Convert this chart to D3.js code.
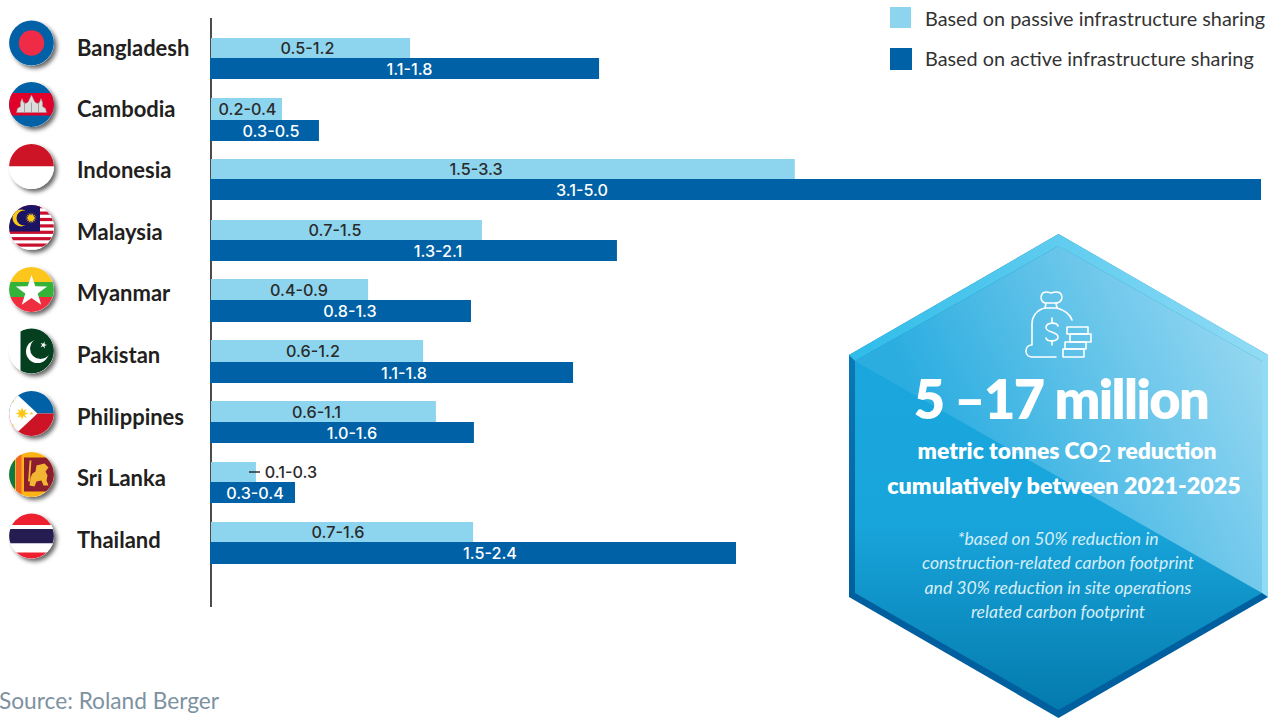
<!DOCTYPE html>
<html>
<head>
<meta charset="utf-8">
<script src="https://cdnjs.cloudflare.com/ajax/libs/d3/7.8.5/d3.min.js"></script>
<style>
html,body{margin:0;padding:0;background:#fff;overflow:hidden}
svg{display:block}
text{font-family:Lato,"Noto Sans",sans-serif}
text.range{font-family:Inter,"Noto Sans",sans-serif}
</style>
</head>
<body>
<div id="chart"></div>
<script>
// Estimated CO2 reduction by country, million metric tonnes
const countries = ["Bangladesh","Cambodia","Indonesia","Malaysia","Myanmar","Pakistan","Philippines","Sri Lanka","Thailand"];
const passiveValues = [0.948,0.338,2.78,1.29,0.748,1.01,1.071,0.214,1.248];
const activeValues = [1.848,0.514,5.0,1.933,1.238,1.724,1.252,0.40,2.50];
const passiveLabels = ["0.5-1.2","0.2-0.4","1.5-3.3","0.7-1.5","0.4-0.9","0.6-1.2","0.6-1.1","0.1-0.3","0.7-1.6"];
const activeLabels = ["1.1-1.8","0.3-0.5","3.1-5.0","1.3-2.1","0.8-1.3","1.1-1.8","1.0-1.6","0.3-0.4","1.5-2.4"];
const legendLabels = ["Based on passive infrastructure sharing","Based on active infrastructure sharing"];
const sourceText = "Source: Roland Berger";

// Layout of the rows: bar edges, range label centres, flag and name centres
const rowTops = [38,98,159,220,279,340,401,462,522];
const rowMids = [58,120,179,240,300,362,422,482,542];
const rowEnds = [79,141,200,261,322,383,443,503,564];
const passiveLabelX = [307.5,247.5,476,335,299,313,316.5,291,338];
const activeLabelX = [409.5,271,582,438,350,404,352,255,490];
const flagY = [43,104.5,166.5,227.5,289.5,351,413.5,474.5,536];
const nameY = [56,117,178,240,301,363,425,486,548];

const W = 1276, H = 718;
const LIGHT = "#8dd5ee", DARK = "#0061a6";
const svg = d3.select("#chart").append("svg").attr("width",W).attr("height",H).attr("viewBox",[0,0,W,H]);
const defs = svg.append("defs");

const x = d3.scaleLinear().domain([0,5]).range([211,1261]);

// Soft drop shadow behind the round flags
const sh = defs.append("filter").attr("id","flagShadow").attr("x","-30%").attr("y","-30%").attr("width","170%").attr("height","170%");
sh.append("feDropShadow").attr("dx",3).attr("dy",3).attr("stdDeviation",2.2).attr("flood-color","#000").attr("flood-opacity",0.6);

// Hexagon gradients
const g1 = defs.append("linearGradient").attr("id","hexBody").attr("x1",0).attr("y1",0).attr("x2",0).attr("y2",1);
g1.append("stop").attr("offset","0").attr("stop-color","#1ca8de");
g1.append("stop").attr("offset","0.6").attr("stop-color","#18a5db");
g1.append("stop").attr("offset","1").attr("stop-color","#047aad");
const g2 = defs.append("linearGradient").attr("id","hexSheen").attr("gradientUnits","userSpaceOnUse")
  .attr("x1",950).attr("y1",470).attr("x2",1262).attr("y2",320);
g2.append("stop").attr("offset","0").attr("stop-color","#2bade0");
g2.append("stop").attr("offset","1").attr("stop-color","#9ad9f2");
const g3 = defs.append("linearGradient").attr("id","hexEdgeTop").attr("gradientUnits","userSpaceOnUse")
  .attr("x1",850).attr("y1",300).attr("x2",1268).attr("y2",300);
g3.append("stop").attr("offset","0").attr("stop-color","#2ebce9");
g3.append("stop").attr("offset","1").attr("stop-color","#92dcf5");
const g4 = defs.append("linearGradient").attr("id","hexBase").attr("x1",0).attr("y1",0).attr("x2",0).attr("y2",1);
g4.append("stop").attr("offset","0.25").attr("stop-color","#0c78b8");
g4.append("stop").attr("offset","0.75").attr("stop-color","#005f9e");

// Axis line
svg.append("line").attr("x1",211).attr("x2",211).attr("y1",18).attr("y2",607).attr("stroke","#111").attr("stroke-width",1.5);

// Bars
const rows = countries.map((c,i)=>({c,i,p:passiveValues[i],a:activeValues[i],pl:passiveLabels[i],al:activeLabels[i]}));
const row = svg.selectAll("g.row").data(rows).join("g").attr("class","row");
row.append("rect").attr("x",x(0)).attr("y",d=>rowTops[d.i]).attr("width",d=>x(d.p)-x(0)).attr("height",d=>rowMids[d.i]-rowTops[d.i]).attr("fill",LIGHT);
row.append("rect").attr("x",x(0)-1).attr("y",d=>rowMids[d.i]).attr("width",d=>x(d.a)-x(0)+1).attr("height",d=>rowEnds[d.i]-rowMids[d.i]).attr("fill",DARK);
row.append("text").attr("class","range").attr("x",d=>passiveLabelX[d.i]).attr("y",d=>(rowTops[d.i]+rowMids[d.i])/2+6).attr("text-anchor","middle")
  .attr("font-size",16.2).attr("font-weight",500).attr("fill","#2a2a2a").text(d=>d.pl);
row.append("text").attr("class","range").attr("x",d=>activeLabelX[d.i]).attr("y",d=>(rowMids[d.i]+rowEnds[d.i])/2+6).attr("text-anchor","middle")
  .attr("font-size",16.2).attr("font-weight",500).attr("fill","#fff").text(d=>d.al);
row.append("text").attr("x",77).attr("y",d=>nameY[d.i]).attr("font-size",22).attr("font-weight",700)
  .attr("fill","#231f20").text(d=>d.c);

// Leader dash for the short Sri Lanka bar
svg.append("line").attr("x1",249).attr("x2",260).attr("y1",472).attr("y2",472).attr("stroke","#222").attr("stroke-width",1.4);

// Round flags
const flagR = 22.4, flagX = 31.5;
function star(cx,cy,R,r,n,rot){
  const pts=[];
  for(let k=0;k<n*2;k++){
    const a=rot+k*Math.PI/n, q=k%2?r:R;
    pts.push([cx+q*Math.sin(a),cy-q*Math.cos(a)]);
  }
  return pts.join(" ");
}
function band(g,y0,y1,c){g.append("rect").attr("x",-24).attr("y",y0).attr("width",48).attr("height",y1-y0).attr("fill",c);}
const painters = {
  Bangladesh(g){
    band(g,-24,24,"#0061a6");
    g.append("circle").attr("r",12.7).attr("fill","#ef2b46");
  },
  Cambodia(g){
    band(g,-24,24,"#0061a6");
    band(g,-11.5,11,"#e0002a");
    g.append("polygon").attr("points","-15,8 -14,4 -11,2 -11,-2 -9.5,-6 -8,-2 -6,-1 -4,-2 -3,-3 0,-9.5 3,-3 4,-2 6,-1 8,-2 9.5,-6 11,-2 11,2 14,4 15,8").attr("fill","#dcdcdc").attr("stroke","#9a9a9a").attr("stroke-width",.5);
    [-7,0,7].forEach(p=>g.append("line").attr("x1",p).attr("x2",p).attr("y1",-2).attr("y2",8).attr("stroke","#8f8f8f").attr("stroke-width",.8));
  },
  Indonesia(g){
    band(g,-24,0,"#cc1426");
    band(g,0,24,"#fff");
  },
  Malaysia(g){
    band(g,-24,24,"#fff");
    d3.range(0,8).forEach(k=>band(g,-22.4+k*6.4,-19.2+k*6.4,"#c8102e"));
    g.append("rect").attr("x",-24).attr("y",-24).attr("width",32.5).attr("height",28).attr("fill","#1b1464");
    g.append("circle").attr("cx",-10.5).attr("cy",-9.5).attr("r",8.5).attr("fill","#fcc917");
    g.append("circle").attr("cx",-7.5).attr("cy",-9.5).attr("r",7.5).attr("fill","#1b1464");
    g.append("polygon").attr("points",star(-0.5,-9.5,5.8,2.8,14,0)).attr("fill","#fcc917");
  },
  Myanmar(g){
    band(g,-24,-7.5,"#fdc61d");
    band(g,-7.5,7.5,"#34b23a");
    band(g,7.5,24,"#ee2e3f");
    g.append("polygon").attr("points",star(0,2,16.5,6.5,5,0)).attr("fill","#fff");
  },
  Pakistan(g){
    band(g,-24,24,"#fff");
    g.append("rect").attr("x",-11).attr("y",-24).attr("width",36).attr("height",48).attr("fill","#04401f");
    g.append("circle").attr("cx",6).attr("cy",0.5).attr("r",11.5).attr("fill","#fff");
    g.append("circle").attr("cx",9).attr("cy",-2.5).attr("r",10.5).attr("fill","#04401f");
    g.append("polygon").attr("points",star(12,-6,3.6,1.4,5,0.3)).attr("fill","#fff");
  },
  Philippines(g){
    band(g,-24,0,"#0061a6");
    band(g,0,24,"#cc1426");
    g.append("polygon").attr("points","-24,-28 -24,28 6,0").attr("fill","#fff");
    g.append("polygon").attr("points",star(-9.5,0,6.5,3,8,0)).attr("fill","#fcc917");
    [[-19,-12],[-19,12],[0,0]].forEach(p=>g.append("polygon").attr("points",star(p[0],p[1],1.8,.8,5,0)).attr("fill","#fcc917"));
  },
  "Sri Lanka"(g){
    band(g,-24,24,"#fcb316");
    g.append("rect").attr("x",-24).attr("y",-24).attr("width",7.5).attr("height",48).attr("fill","#0b7a4b");
    g.append("rect").attr("x",-15.5).attr("y",-24).attr("width",5.5).attr("height",48).attr("fill","#f26722");
    g.append("rect").attr("x",-7.5).attr("y",-17).attr("width",32).attr("height",34).attr("fill","#8c1d2f");
    g.append("path").attr("d","M-2,11 L-1,3 L1,-1 L4,-3 L5,-9 L13,-11 L17,-7 L14,-3 L16,1 L15,6 L17,11 L12,11 L10,6 L5,7 L3,12 Z").attr("fill","#f2b632");
    g.append("line").attr("x1",-1).attr("y1",-14).attr("x2",-2.5).attr("y2",7).attr("stroke","#f2b632").attr("stroke-width",1.8);
  },
  Thailand(g){
    band(g,-24,-11,"#ee2030");
    band(g,-11,-7,"#fff");
    band(g,-7,7.5,"#251c52");
    band(g,7.5,16.5,"#fff");
    band(g,16.5,24,"#ee2030");
  }
};
countries.forEach((c,i)=>{
  const holder = svg.append("g").attr("transform",`translate(${flagX},${flagY[i]})`);
  holder.append("circle").attr("r",flagR).attr("fill","#fff").attr("filter","url(#flagShadow)");
  defs.append("clipPath").attr("id","flagClip"+i).append("circle").attr("r",flagR);
  painters[c](holder.append("g").attr("clip-path",`url(#flagClip${i})`));
});

// Legend
const legendY = [7,48];
legendLabels.forEach((t,i)=>{
  svg.append("rect").attr("x",890).attr("y",legendY[i]).attr("width",i?22:21).attr("height",i?22:21).attr("fill",i?DARK:LIGHT);
  svg.append("text").attr("x",925).attr("y",legendY[i]+19-(i?1:0)).attr("font-size",19.85).attr("fill","#333").text(t);
});

// Source line
svg.append("text").attr("x",-1).attr("y",709).attr("font-size",22.7).attr("fill","#7d92a1").text(sourceText);

// Callout hexagon with bevelled edge
const hex = svg.append("g");
const cx = 1058.5;
hex.append("polygon").attr("points",`${cx},234 1268,355 1268,597 ${cx},718 849,597 849,355`).attr("fill","url(#hexBase)");
hex.append("polygon").attr("points",`${cx},234 1268,355 ${cx},246 855,361 849,355`).attr("fill","url(#hexEdgeTop)");
hex.append("polygon").attr("points",`${cx},246 1262,361 1262,593 ${cx},710 855,593 855,361`).attr("fill","url(#hexBody)");
hex.append("polygon").attr("points",`${cx},234 1268,355 1268,597 1262,593 1262,361 ${cx},246`).attr("fill","url(#hexEdgeTop)");
hex.append("polygon").attr("points",`${cx},246 1262,361 1262,593 855,361`).attr("fill","url(#hexSheen)");

// Money bag icon
const icon = hex.append("g").attr("transform","translate(1026,291)").attr("fill","none").attr("stroke","#fff").attr("stroke-width",1.6).attr("stroke-linejoin","round").attr("stroke-linecap","round");
icon.append("path").attr("d","M19,12 C15,11 14,6 16,3 C18,0 22,1 25,2 C28,1 33,0 35,3 C37,6 36,11 31,12 Z");
icon.append("path").attr("d","M20,12 L19,17 M30,12 L31,17 M19,17 L31,17");
icon.append("path").attr("d","M19,17 C10,19 6,26 6,33 L6,54 C2,54 0,57 0,60 C0,64 3,66 6,66 L30,66");
icon.append("path").attr("d","M31,17 C38,19 44,23 46,29");
icon.append("path").attr("d","M32,35 C31,31 21,31 20,36 C19,42 32,40 32,46 C32,51 21,51 20,47 M26,27 L26,31 M26,50 L26,54");
icon.append("rect").attr("x",41).attr("y",36).attr("width",21).attr("height",7);
icon.append("rect").attr("x",44).attr("y",43).attr("width",21).attr("height",8);
icon.append("rect").attr("x",39).attr("y",51).attr("width",21).attr("height",7);
icon.append("rect").attr("x",37).attr("y",58).attr("width",21).attr("height",8);

// Callout text
const center = hex.append("g").attr("text-anchor","middle").attr("fill","#fff");
center.append("text").attr("x",1061).attr("y",419).attr("font-size",54).attr("font-weight",800).attr("letter-spacing",-1.6).text("5 –17 million");
const co2 = center.append("text").attr("x",1067).attr("y",459).attr("font-size",22.8).attr("font-weight",800);
co2.append("tspan").text("metric tonnes CO");
co2.append("tspan").attr("dy",3).attr("font-size",24).attr("font-weight",400).text("2");
co2.append("tspan").attr("dy",-3).text(" reduction");
center.append("text").attr("x",1064).attr("y",494).attr("font-size",23.3).attr("font-weight",800).text("cumulatively between 2021-2025");
const note = ["*based on 50% reduction in","construction-related carbon footprint","and 30% reduction in site operations","related carbon footprint"];
const noteY = [545,569,594,618];
note.forEach((t,i)=>center.append("text").attr("x",1058).attr("y",noteY[i]).attr("font-size",17.6).attr("font-style","italic").attr("fill","#d5eef8").text(t));
</script>
</body>
</html>
